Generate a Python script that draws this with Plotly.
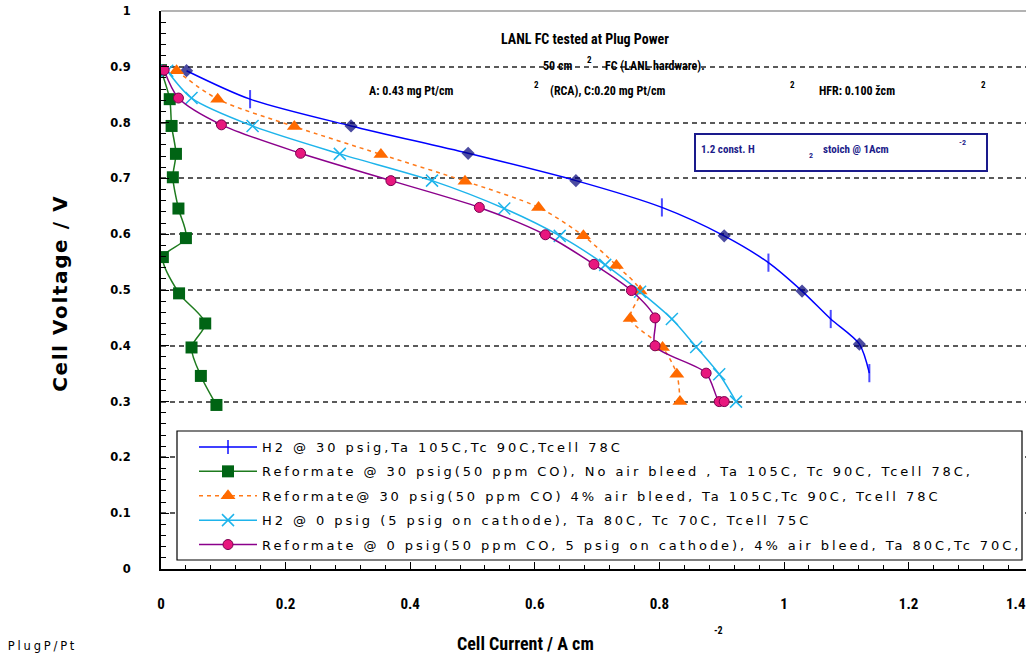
import plotly.graph_objects as go

# ---------------- data ----------------
h2_30_x = [0.041, 0.143, 0.305, 0.493, 0.666, 0.804, 0.904, 0.975, 1.029, 1.075, 1.121, 1.137]
h2_30_y = [0.893, 0.842, 0.794, 0.745, 0.696, 0.648, 0.597, 0.549, 0.498, 0.448, 0.403, 0.351]
h2_30_sym = ["diamond", "line-ns", "diamond", "diamond", "diamond", "line-ns",
             "diamond", "line-ns", "diamond", "line-ns", "diamond", "line-ns"]

ref30_nobleed_x = [0.000, 0.014, 0.017, 0.024, 0.019, 0.028, 0.040, 0.003, 0.029, 0.071, 0.049, 0.064, 0.089]
ref30_nobleed_y = [0.894, 0.842, 0.794, 0.744, 0.702, 0.646, 0.593, 0.559, 0.494, 0.440, 0.397, 0.346, 0.294]

ref30_bleed_x = [0.025, 0.091, 0.214, 0.353, 0.488, 0.606, 0.678, 0.731, 0.769, 0.753, 0.805, 0.828, 0.833]
ref30_bleed_y = [0.893, 0.842, 0.793, 0.743, 0.695, 0.648, 0.597, 0.544, 0.498, 0.449, 0.397, 0.349, 0.300]

h2_0_x = [0.010, 0.049, 0.147, 0.287, 0.435, 0.551, 0.640, 0.713, 0.769, 0.820, 0.859, 0.896, 0.923]
h2_0_y = [0.893, 0.844, 0.794, 0.744, 0.696, 0.646, 0.597, 0.545, 0.497, 0.448, 0.398, 0.349, 0.300]

ref0_bleed_x = [0.005, 0.028, 0.097, 0.224, 0.369, 0.511, 0.617, 0.695, 0.755, 0.793, 0.793, 0.875, 0.896, 0.904]
ref0_bleed_y = [0.894, 0.844, 0.796, 0.745, 0.696, 0.648, 0.599, 0.546, 0.499, 0.450, 0.400, 0.351, 0.300, 0.300]

series_names = [
    "H2 @ 30 psig,Ta 105C,Tc 90C,Tcell 78C",
    "Reformate @ 30 psig(50 ppm CO), No air bleed , Ta 105C, Tc 90C, Tcell 78C,",
    "Reformate@ 30 psig(50 ppm CO) 4% air bleed, Ta 105C,Tc 90C, Tcell 78C",
    "H2 @ 0 psig (5 psig on cathode), Ta 80C, Tc 70C, Tcell 75C",
    "Reformate @ 0 psig(50 ppm CO, 5 psig on cathode), 4% air bleed, Ta 80C,Tc 70C,",
]

x_tick_vals = [0, 0.2, 0.4, 0.6, 0.8, 1.0, 1.2]
x_tick_text = ["0", "0.2", "0.4", "0.6", "0.8", "1", "1.2"]
y_tick_vals = [0, 0.1, 0.2, 0.3, 0.4, 0.5, 0.6, 0.7, 0.8, 0.9, 1.0]
y_tick_text = ["0", "0.1", "0.2", "0.3", "0.4", "0.5", "0.6", "0.7", "0.8", "0.9", "1"]

# ---------------- layout geometry ----------------
W, H = 1026, 654
L, R, T, B = 161, 0, 11, 85
PW, PH = W - L - R, H - T - B
XMAX = PW / 623.0


def px(x):
    return (x - L) / PW


def py(y):
    return (H - B - y) / PH


NARROW = "Liberation Sans Narrow, Arial Narrow, Roboto Condensed, Liberation Sans, sans-serif"
VERD = "DejaVu Sans, Verdana, sans-serif"

fig = go.Figure()

# blue: reverse order so legend picks the tick symbol
blue_cols = ["#00007A" if s == "diamond" else "#0000FF" for s in h2_30_sym]
fig.add_trace(go.Scatter(
    x=h2_30_x[::-1], y=h2_30_y[::-1], name=series_names[0], legendgroup="a",
    mode="lines+markers",
    line=dict(color="#0000FF", width=1.5, shape="spline", smoothing=0.8),
    marker=dict(symbol=h2_30_sym[::-1], size=[8 if s == "diamond" else 13 for s in h2_30_sym[::-1]],
                color=blue_cols[::-1], line=dict(color=blue_cols[::-1], width=2)),
))
fig.add_trace(go.Scatter(
    x=ref30_nobleed_x, y=ref30_nobleed_y, name=series_names[1], legendgroup="b",
    mode="lines+markers",
    line=dict(color="#1E7B1E", width=1.5, shape="spline", smoothing=0.8),
    marker=dict(symbol="square", size=12, color="#006414", line=dict(color="#006414", width=0)),
))
fig.add_trace(go.Scatter(
    x=ref30_bleed_x, y=ref30_bleed_y, name=series_names[2], legendgroup="c",
    mode="lines+markers",
    line=dict(color="#FF7A1A", width=1.5, dash="4px,4px", shape="spline", smoothing=0.8),
    marker=dict(symbol="triangle-up", size=13, color="#FF6A00", line=dict(width=0)),
))
fig.add_trace(go.Scatter(
    x=h2_0_x, y=h2_0_y, name=series_names[3], legendgroup="d",
    mode="lines+markers",
    line=dict(color="#1EB4EB", width=1.5, shape="spline", smoothing=0.8),
    marker=dict(symbol="x-thin", size=12, color="#1EB4EB", line=dict(color="#1EB4EB", width=1.5)),
))
fig.add_trace(go.Scatter(
    x=ref0_bleed_x, y=ref0_bleed_y, name=series_names[4], legendgroup="e",
    mode="lines+markers",
    line=dict(color="#8B008B", width=1.5, shape="spline", smoothing=0.8),
    marker=dict(symbol="circle", size=10, color="#E8177E", line=dict(color="#7A0050", width=1)),
))

shapes = [
    # top frame line at V = 1
    dict(type="line", xref="paper", yref="paper", x0=0, x1=1, y0=1, y1=1,
         line=dict(color="#9a9a9a", width=1.5), layer="below"),
    # legend box
    dict(type="rect", xref="paper", yref="paper", x0=px(177), x1=px(1022), y0=py(560), y1=py(431),
         line=dict(color="black", width=1.2), fillcolor="white", layer="above"),
    # stoich box
    dict(type="rect", xref="paper", yref="paper", x0=px(695), x1=px(987), y0=py(171), y1=py(134),
         line=dict(color="#1A1A8C", width=2), fillcolor="rgba(0,0,0,0)", layer="above"),
]


def ann(text, x, y, size, family=NARROW, bold=True, color="black", xanchor="center", textangle=0):
    return dict(text=("<b>%s</b>" % text) if bold else text, x=px(x), y=py(y), xref="paper", yref="paper",
                showarrow=False, xanchor=xanchor, yanchor="middle", textangle=textangle,
                font=dict(family=family, size=size, color=color))


annotations = [
    ann("LANL FC tested at Plug Power", 585, 39, 14),
    ann("50 cm", 557, 66, 12),
    ann("2", 589, 60, 9),
    ann("FC (LANL hardware).", 655, 66, 12),
    ann("A: 0.43 mg Pt/cm", 411, 91, 12),
    ann("2", 536, 85, 9),
    ann("(RCA), C:0.20 mg Pt/cm", 607, 91, 12),
    ann("2", 792, 85, 9),
    ann("HFR: 0.100 žcm", 857, 91, 12),
    ann("2", 983, 85, 9),
    ann("1.2 const. H", 699, 150, 11, color="#1C1C8A", xanchor="left"),
    ann("2", 811, 156, 8, color="#1C1C8A"),
    ann("stoich @ 1Acm", 821, 150, 11, color="#1C1C8A", xanchor="left"),
    ann("-2", 962, 142, 8, color="#1C1C8A"),
    ann("1.4", 1016, 604, 15),
    ann("Cell Current / A cm", 525, 643, 18),
    ann("-2", 718, 630, 10),
    ann("Cell Voltage / V", 60, 293, 20, family=VERD, bold=True, textangle=-90),
    ann("PlugP/Pt", 42, 646, 11.5, family=VERD, bold=False),
]

fig.update_layout(
    width=W, height=H, margin=dict(l=L, r=R, t=T, b=B, pad=0),
    paper_bgcolor="white", plot_bgcolor="white",
    showlegend=True,
    legend=dict(x=px(194), y=py(432), xanchor="left", yanchor="top",
                bgcolor="rgba(0,0,0,0)", borderwidth=0, itemwidth=58,
                traceorder="grouped", tracegroupgap=4.5,
                font=dict(family=VERD, size=13, color="black")),
    xaxis=dict(range=[0, XMAX], showgrid=False, zeroline=False,
               showline=True, linecolor="black", linewidth=2,
               tickmode="array", tickvals=x_tick_vals, ticktext=x_tick_text,
               ticks="inside", ticklen=7, tickwidth=1.2, tickcolor="black",
               minor=dict(dtick=0.04, ticks="inside", ticklen=4, tickcolor="black", tickwidth=1),
               ticklabelstandoff=20,
               tickfont=dict(family=NARROW, size=15, color="black", weight="bold")),
    yaxis=dict(range=[0, 1], zeroline=False,
               showline=True, linecolor="black", linewidth=2,
               tickmode="array", tickvals=y_tick_vals, ticktext=y_tick_text,
               showgrid=True, gridcolor="#5a5a5a", gridwidth=1.5, griddash="5px,4px",
               ticks="inside", ticklen=8, tickwidth=1.2, tickcolor="black",
               minor=dict(dtick=0.02, ticks="inside", ticklen=5, tickcolor="black", tickwidth=1, showgrid=False),
               ticklabelstandoff=26,
               tickfont=dict(family=VERD, size=11.5, color="black", weight="bold")),
    shapes=shapes, annotations=annotations,
)

post = """
document.body.style.margin = '0';
document.body.style.padding = '0';
var gd = document.getElementById('{plot_id}');
gd.querySelectorAll('.legend, .legend *').forEach(function(e){ e.removeAttribute('clip-path'); });
gd.querySelectorAll('.legendtext').forEach(function(t){ t.style.letterSpacing='2.95px'; });
var sp = {'Cell Voltage / V': '1.6px', 'PlugP/Pt': '2.8px'};
gd.querySelectorAll('.annotation-text').forEach(function(t){
  var k = t.textContent; if (sp[k]) { t.style.letterSpacing = sp[k]; }
});
"""

fig.write_html("out.html", post_script=post, config={"displayModeBar": False})
